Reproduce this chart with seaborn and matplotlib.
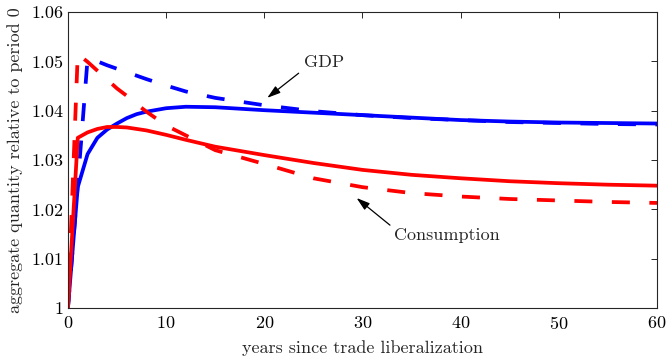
import numpy as np
import pandas as pd
import matplotlib
matplotlib.use("Agg")
import matplotlib.pyplot as plt
from matplotlib.ticker import FuncFormatter
import seaborn as sns

# Years since the trade liberalization
years = [0, 1, 2, 3, 4, 5, 6, 7, 8, 10, 12, 15, 20, 25, 30, 35, 40, 45, 50, 55, 60]

# GDP and consumption paths (relative to period 0), two model variants each
gdp_solid = [1.0000, 1.0245, 1.0312, 1.0345, 1.0362, 1.0374, 1.0385, 1.0393, 1.0398, 1.0405, 1.0408,
             1.0407, 1.0401, 1.0396, 1.0391, 1.0386, 1.0381, 1.0378, 1.0376, 1.0375, 1.0374]
gdp_dashed = [1.0000, 1.0250, 1.0505, 1.0500, 1.0492, 1.0485, 1.0478, 1.0471, 1.0464, 1.0451, 1.0439,
              1.0426, 1.0411, 1.0399, 1.0391, 1.0385, 1.0381, 1.0377, 1.0375, 1.0373, 1.0372]
cons_solid = [1.0000, 1.0345, 1.0356, 1.0363, 1.0367, 1.0367, 1.0366, 1.0363, 1.0360, 1.0351, 1.0341,
              1.0327, 1.0310, 1.0294, 1.0280, 1.0270, 1.0263, 1.0257, 1.0253, 1.0250, 1.0248]
cons_dashed = [1.0000, 1.0515, 1.0499, 1.0481, 1.0463, 1.0445, 1.0430, 1.0413, 1.0398, 1.0370, 1.0350,
               1.0320, 1.0292, 1.0263, 1.0245, 1.0233, 1.0226, 1.0221, 1.0218, 1.0215, 1.0213]

x_ticks = [0, 10, 20, 30, 40, 50, 60]
y_ticks = [1.00, 1.01, 1.02, 1.03, 1.04, 1.05, 1.06]

sns.set_style("white")
plt.rcParams["font.family"] = ["cmr10"]
plt.rcParams["mathtext.fontset"] = "cm"
plt.rcParams["axes.formatter.use_mathtext"] = True

frames = []
for vals, var, dash in [(gdp_solid, "GDP", "solid"),
                        (gdp_dashed, "GDP", "dashed"),
                        (cons_solid, "Consumption", "solid"),
                        (cons_dashed, "Consumption", "dashed")]:
    frames.append(pd.DataFrame({"year": years, "value": vals, "series": var, "kind": dash}))
df = pd.concat(frames, ignore_index=True)

fig = plt.figure(figsize=(6.66, 3.59), dpi=100)
ax = fig.add_axes([0.102, 0.142, 0.8845, 0.8245])

lw = 2.7
sns.lineplot(data=df, x="year", y="value", hue="series", style="kind",
             hue_order=["GDP", "Consumption"], style_order=["solid", "dashed"],
             palette={"GDP": (0, 0, 1), "Consumption": (1, 0, 0)},
             dashes={"solid": "", "dashed": (4.8, 5.2)},
             linewidth=lw, legend=False, ax=ax, estimator=None, sort=False)
for line in ax.get_lines():
    line.set_solid_joinstyle("round")

fs = 13
ax.set_xlim(0, 60)
ax.set_ylim(1.0, 1.06)
ax.set_xticks(x_ticks)
ax.set_yticks(y_ticks)
ax.yaxis.set_major_formatter(FuncFormatter(lambda v, p: "%g" % round(v, 2)))
ax.tick_params(direction="in", length=4, width=0.7, colors="#262626",
               labelsize=fs, top=True, right=True, labelcolor="black")
ax.tick_params(axis="x", pad=5)
ax.tick_params(axis="y", pad=3)
for s in ax.spines.values():
    s.set_visible(True)
    s.set_linewidth(0.8)
    s.set_color("#262626")

ax.set_xlabel("years since trade liberalization", fontsize=fs, labelpad=6)
ax.set_ylabel("aggregate quantity relative to period 0", fontsize=fs, labelpad=6)

arrow = dict(arrowstyle="-|>,head_length=0.8,head_width=0.25", color="black",
             lw=0.9, shrinkA=0, shrinkB=0)
ax.annotate("", xy=(20.3, 1.0426), xytext=(23.5, 1.0476), arrowprops=arrow)
ax.text(26.1, 1.0499, "GDP", ha="center", va="center", fontsize=fs)
ax.annotate("", xy=(29.4, 1.0223), xytext=(32.8, 1.0168), arrowprops=arrow)
ax.text(38.6, 1.0148, "Consumption", ha="center", va="center", fontsize=fs)

fig.savefig("out.png", dpi=100)
